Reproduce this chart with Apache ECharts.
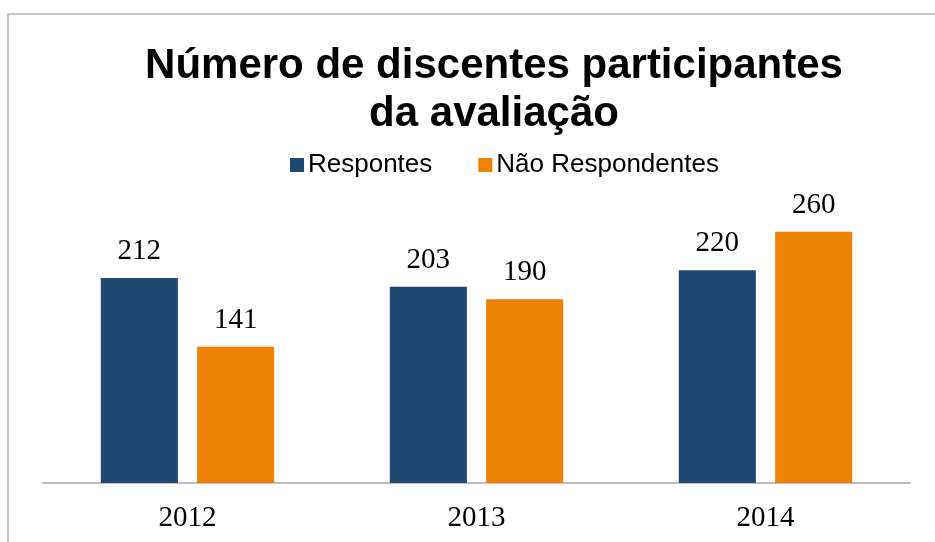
<!DOCTYPE html>
<html>
<head>
<meta charset="utf-8">
<script src="https://cdn.jsdelivr.net/npm/echarts@6/dist/echarts.min.js"></script>
<style>
  html, body { margin: 0; padding: 0; background: #fff; }
  #chart { width: 935px; height: 542px; }
  #frame {
    position: absolute; left: 7px; top: 13px; right: 0; bottom: 0;
    border-top: 2px solid #c8c8c8; border-left: 2px solid #c8c8c8;
    pointer-events: none;
  }
</style>
</head>
<body>
<div id="chart"></div>
<div id="frame"></div>
<script>
// dados
const anos = ["2012", "2013", "2014"];
const respontes = [212, 203, 220];
const naoRespondentes = [141, 190, 260];

const chart = echarts.init(document.getElementById("chart"));

const labelStyle = {
  show: true,
  position: "top",
  distance: 12,
  color: "#000",
  fontFamily: "Liberation Serif",
  fontSize: 29,
};

const option = {
  animation: false,
  title: {
    text: "Número de discentes participantes\nda avaliação",
    left: 489,
    top: 37,
    textAlign: "center",
    textStyle: {
      fontFamily: "Liberation Sans",
      fontWeight: "bold",
      fontSize: 42,
      lineHeight: 48,
      color: "#000",
    },
  },
  legend: {
    top: 147,
    left: 285,
    itemWidth: 14,
    itemHeight: 14,
    itemGap: 46,
    icon: "rect",
    textStyle: {
      fontFamily: "Liberation Sans",
      fontSize: 26,
      color: "#000",
      padding: [0, 0, 0, -1],
    },
    data: ["Respontes", "Não Respondentes"],
  },
  grid: {
    left: 43,
    right: 25,
    top: 193,
    bottom: 59,
  },
  xAxis: {
    type: "category",
    data: anos,
    axisLine: { lineStyle: { color: "#bdbdbd", width: 2 } },
    axisTick: { show: false },
    axisLabel: {
      margin: 21,
      color: "#000",
      fontFamily: "Liberation Serif",
      fontSize: 29,
    },
  },
  yAxis: {
    type: "value",
    min: 0,
    max: 300,
    show: false,
    splitLine: { show: false },
  },
  series: [
    {
      name: "Respontes",
      type: "bar",
      data: respontes,
      barGap: "25%",
      barCategoryGap: "40%",
      itemStyle: { color: "#1F4971" },
      label: labelStyle,
    },
    {
      name: "Não Respondentes",
      type: "bar",
      data: naoRespondentes,
      itemStyle: { color: "#EE8205" },
      label: labelStyle,
    },
  ],
};

chart.setOption(option);
</script>
</body>
</html>
